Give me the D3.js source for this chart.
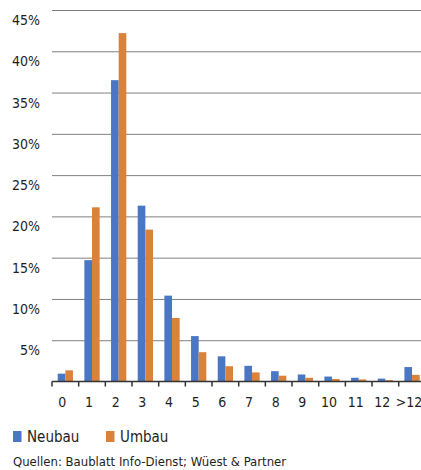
<!DOCTYPE html>
<html lang='de'>
	<head>
		<meta charset='UTF-8'>
		<title>Neubau / Umbau</title>
		<style>
			body { margin: 0; background: #fff; }
			text { font-family: 'DejaVu Sans Condensed', 'Liberation Sans Narrow', sans-serif; fill: #1e1e1e; }
		</style>
	</head>
	<body>
		<svg id='graph' width='421' height='470'></svg>

		<script src='https://d3js.org/d3.v7.min.js'></script>
		<script>
			const categories = ['0', '1', '2', '3', '4', '5', '6', '7', '8', '9', '10', '11', '12', '>12']
			const neubau = [0.95, 14.7, 36.5, 21.3, 10.4, 5.5, 3.05, 1.9, 1.25, 0.85, 0.6, 0.45, 0.35, 1.75]
			const umbau = [1.35, 21.1, 42.2, 18.4, 7.7, 3.55, 1.85, 1.1, 0.7, 0.45, 0.3, 0.25, 0.17, 0.8]
			const seriesNames = ['Neubau', 'Umbau']
			const yTicks = [5, 10, 15, 20, 25, 30, 35, 40, 45]
			const source = 'Quellen: Baublatt Info-Dienst; Wüest & Partner'

			const width = 421
			const marginLeft = 52
			const marginTop = 10
			const baseline = 381.5
			const band = 26.67
			const colors = { Neubau: '#4a76c6', Umbau: '#d9823b' }

			const svg = d3.select('#graph')

			const x0 = d3.scaleBand()
				.domain(categories)
				.range([marginLeft, marginLeft + band * categories.length])
			const x1 = d3.scaleBand()
				.domain(seriesNames)
				.range([5.7, band - 5.7])
			const yScale = d3.scaleLinear()
				.domain([0, 45])
				.range([baseline, marginTop])

			// gridlines + labels (labels sit a bit below their line, like the original)
			const yAxis = d3.axisLeft(yScale)
				.tickValues(yTicks)
				.tickSizeInner(-(width - marginLeft))
				.tickSizeOuter(0)
				.tickPadding(12)
				.tickFormat((d) => d + '%')
			const gy = svg.append('g')
				.attr('transform', `translate(${marginLeft}, 0)`)
				.call(yAxis)
			gy.select('.domain').remove()
			gy.selectAll('line').attr('stroke', '#808080')
			gy.selectAll('text')
				.style('font-size', '14px')
				.style('fill', '#1e1e1e')
				.attr('dy', '1.04em')

			const data = categories.map((c, i) => ({ cat: c, values: [
				{ name: 'Neubau', value: neubau[i] },
				{ name: 'Umbau', value: umbau[i] }
			] }))

			svg.append('g')
				.selectAll('g')
				.data(data)
				.enter()
				.append('g')
				.attr('transform', (d) => `translate(${x0(d.cat)}, 0)`)
				.selectAll('rect')
				.data((d) => d.values)
				.enter()
				.append('rect')
				.attr('x', (d) => x1(d.name))
				.attr('y', (d) => yScale(d.value))
				.attr('width', x1.bandwidth())
				.attr('height', (d) => baseline - yScale(d.value))
				.attr('fill', (d) => colors[d.name])

			// x axis: labels in bands, ticks on band edges
			const xAxis = d3.axisBottom(x0)
				.tickSize(0)
				.tickPadding(16)
			const gx = svg.append('g')
				.attr('transform', `translate(0, ${baseline})`)
				.call(xAxis)
			gx.select('.domain').remove()
			gx.selectAll('text')
				.style('font-size', '14px')
				.style('fill', '#1e1e1e')
				.attr('dx', -3)

			svg.append('line')
				.attr('x1', marginLeft).attr('x2', width)
				.attr('y1', baseline).attr('y2', baseline)
				.attr('stroke', '#333').attr('stroke-width', 1.5)
			svg.append('g')
				.selectAll('line')
				.data(categories)
				.enter()
				.append('line')
				.attr('x1', (d) => x0(d)).attr('x2', (d) => x0(d))
				.attr('y1', baseline).attr('y2', baseline + 5)
				.attr('stroke', '#333').attr('stroke-width', 1.5)

			// legend
			const legendX = [13, 106]
			const legend = svg.append('g')
				.selectAll('g')
				.data(seriesNames)
				.enter()
				.append('g')
				.attr('transform', (d, i) => `translate(${legendX[i]}, 431)`)
			legend.append('rect')
				.attr('width', 8.5).attr('height', 11)
				.attr('fill', (d) => colors[d])
			legend.append('text')
				.attr('x', 14).attr('y', 11)
				.style('font-size', '15px')
				.text((d) => d)

			svg.append('text')
				.attr('x', 13).attr('y', 466)
				.style('font-size', '13px')
				.text(source)
		</script>
	</body>
</html>
